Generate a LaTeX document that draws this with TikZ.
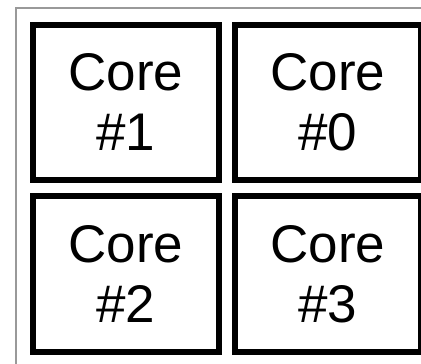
\documentclass[tikz,border=0pt]{standalone}
\usepackage{fontspec}
\setmainfont{Liberation Sans}
\tikzset{
  corebox/.style={draw, line width=6pt, minimum width=186pt, minimum height=155.5pt,
    inner sep=0pt, align=center, font=\fontsize{53}{60}\selectfont},
}
\begin{document}
\begin{tikzpicture}[x=1pt, y=1pt]
	\useasboundingbox (0,0) rectangle (421,364);
	\draw[gray!80, line width=2pt] (15.5,0) -- (15.5,356) -- (430,356);
	
	\node[corebox] (c1) at (126,261.5) {Core\\\#1};
	\node[corebox] (c0) at (328,261.5) {Core\\\#0};
	\node[corebox] (c2) at (126,90) {Core\\\#2};
	\node[corebox] (c3) at (328,90) {Core\\\#3};
\end{tikzpicture}
\end{document}
